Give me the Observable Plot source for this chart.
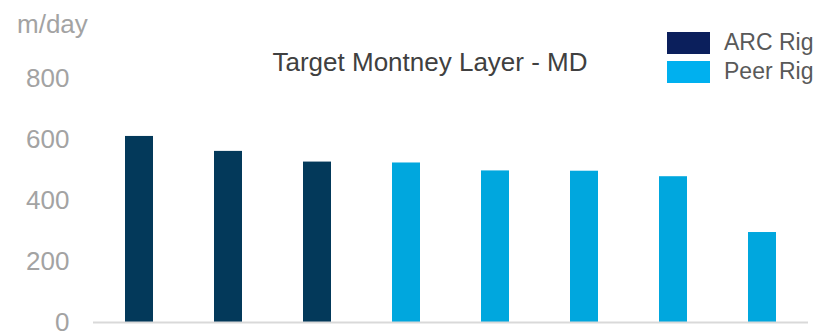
<!DOCTYPE html>
<html>
<head>
<meta charset="utf-8">
<script src="https://cdn.jsdelivr.net/npm/d3@7"></script>
<script src="https://cdn.jsdelivr.net/npm/@observablehq/plot@0.6"></script>
<style>
  html, body { margin: 0; padding: 0; background: #fff; }
  #wrap { position: relative; width: 831px; height: 334px; font-family: "Liberation Sans", Arial, sans-serif; }
  #wrap svg { position: absolute; left: 0; top: 0; }
  .lbl { position: absolute; white-space: nowrap; line-height: 1; }
  #unit { left: 17px; top: 11px; font-size: 26px; color: #a3a3a3; }
  #title { left: 430px; top: 49px; font-size: 26px; color: #404040; transform: translateX(-50%); }
  .leg { position: absolute; left: 667px; display: flex; align-items: center; }
  .sw { width: 43px; height: 22px; margin-right: 14px; }
  .lt { font-size: 23px; color: #595959; line-height: 1; }
</style>
</head>
<body>
<div id="wrap">
  <div id="unit" class="lbl">m/day</div>
  <div id="title" class="lbl">Target Montney Layer - MD</div>
  <div id="legend"></div>
</div>
<script>
const rigs = ["ARC 1", "ARC 2", "ARC 3", "Peer 1", "Peer 2", "Peer 3", "Peer 4", "Peer 5"];
const rigType = ["ARC Rig", "ARC Rig", "ARC Rig", "Peer Rig", "Peer Rig", "Peer Rig", "Peer Rig", "Peer Rig"];
const mdRate = [610, 561, 526, 523, 497, 496, 478, 295];
const yTicks = [0, 200, 400, 600, 800];
const legendLabels = ["ARC Rig", "Peer Rig"];
const barColors = ["#03395a", "#00a7de"];
const legendColors = ["#0b1f5c", "#00b0ef"];

const data = rigs.map((r, i) => ({rig: r, type: rigType[i], value: mdRate[i]}));

const chart = Plot.plot({
  width: 831,
  height: 334,
  marginTop: 78,
  marginBottom: 12,
  marginLeft: 93,
  marginRight: 23,
  style: {fontFamily: "Liberation Sans, Arial, sans-serif", background: "transparent"},
  x: {domain: rigs, paddingInner: 0.69, paddingOuter: 0.345, axis: null},
  y: {domain: [0, 800]},
  color: {domain: legendLabels, range: barColors},
  marks: [
    Plot.axisY({ticks: yTicks, tickSize: 0, tickPadding: 24, fontSize: 26, color: "#a3a3a3", label: null}),
    Plot.barY(data, {x: "rig", y: "value", fill: "type"}),
    Plot.ruleY([0], {stroke: "#d9d9d9", strokeWidth: 2})
  ]
});
document.getElementById("wrap").prepend(chart);

const legend = document.getElementById("legend");
const tops = [31, 60];
legendLabels.forEach((lab, i) => {
  const row = document.createElement("div");
  row.className = "leg";
  row.style.top = tops[i] + "px";
  const sw = document.createElement("div");
  sw.className = "sw";
  sw.style.background = legendColors[i];
  const t = document.createElement("span");
  t.className = "lt";
  t.textContent = lab;
  row.appendChild(sw);
  row.appendChild(t);
  legend.appendChild(row);
});
</script>
</body>
</html>
